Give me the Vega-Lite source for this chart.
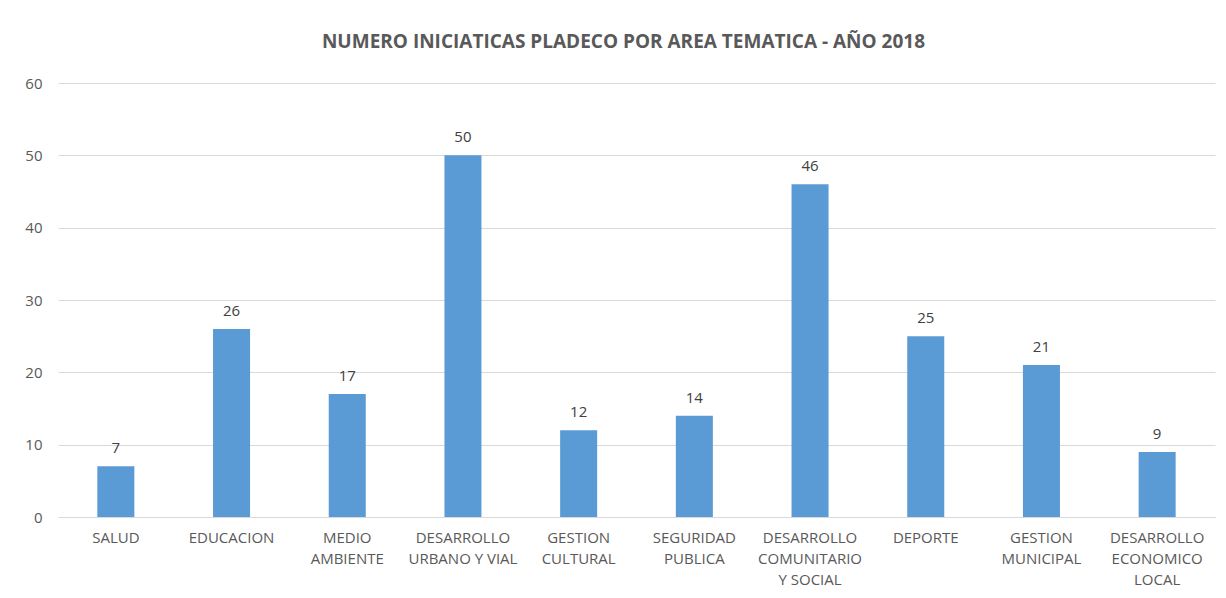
{
  "$schema": "https://vega.github.io/schema/vega-lite/v6.json",
  "width": 1157,
  "height": 434,
  "autosize": "none",
  "padding": {"left": 58, "top": 83, "right": 11, "bottom": 81},
  "background": "white",
  "title": {
    "text": "NUMERO INICIATICAS PLADECO POR AREA TEMATICA - AÑO 2018",
    "font": "Open Sans",
    "fontSize": 19,
    "fontWeight": "bold",
    "color": "#595959",
    "anchor": "middle",
    "dx": -13,
    "offset": 24
  },
  "data": {
    "values": [
      {"area": "SALUD", "n": 7},
      {"area": "EDUCACION", "n": 26},
      {"area": "MEDIO|AMBIENTE", "n": 17},
      {"area": "DESARROLLO|URBANO Y VIAL", "n": 50},
      {"area": "GESTION|CULTURAL", "n": 12},
      {"area": "SEGURIDAD|PUBLICA", "n": 14},
      {"area": "DESARROLLO|COMUNITARIO|Y SOCIAL", "n": 46},
      {"area": "DEPORTE", "n": 25},
      {"area": "GESTION|MUNICIPAL", "n": 21},
      {"area": "DESARROLLO|ECONOMICO|LOCAL", "n": 9}
    ]
  },
  "encoding": {
    "x": {
      "field": "area",
      "type": "nominal",
      "sort": null,
      "scale": {"paddingInner": 0.68, "paddingOuter": 0.34},
      "axis": {
        "title": null,
        "labelAngle": 0,
        "labelExpr": "split(datum.label, '|')",
        "labelFont": "Open Sans",
        "labelFontSize": 15,
        "labelColor": "#595959",
        "labelLineHeight": 21,
        "labelPadding": 13,
        "ticks": false,
        "domainColor": "#d9d9d9",
        "domainWidth": 1
      }
    },
    "y": {
      "field": "n",
      "type": "quantitative",
      "scale": {"domain": [0, 60]},
      "axis": {
        "title": null,
        "values": [0, 10, 20, 30, 40, 50, 60],
        "labelFont": "Open Sans",
        "labelFontSize": 15,
        "labelColor": "#595959",
        "labelPadding": 16,
        "ticks": false,
        "domain": false,
        "gridColor": "#d9d9d9",
        "gridWidth": 1
      }
    }
  },
  "layer": [
    {"mark": {"type": "bar", "color": "#5B9BD5"}},
    {
      "mark": {"type": "text", "baseline": "bottom", "dy": -10, "font": "Open Sans", "fontSize": 15, "color": "#404040"},
      "encoding": {"text": {"field": "n", "type": "quantitative"}}
    }
  ],
  "config": {"view": {"stroke": null}}
}
